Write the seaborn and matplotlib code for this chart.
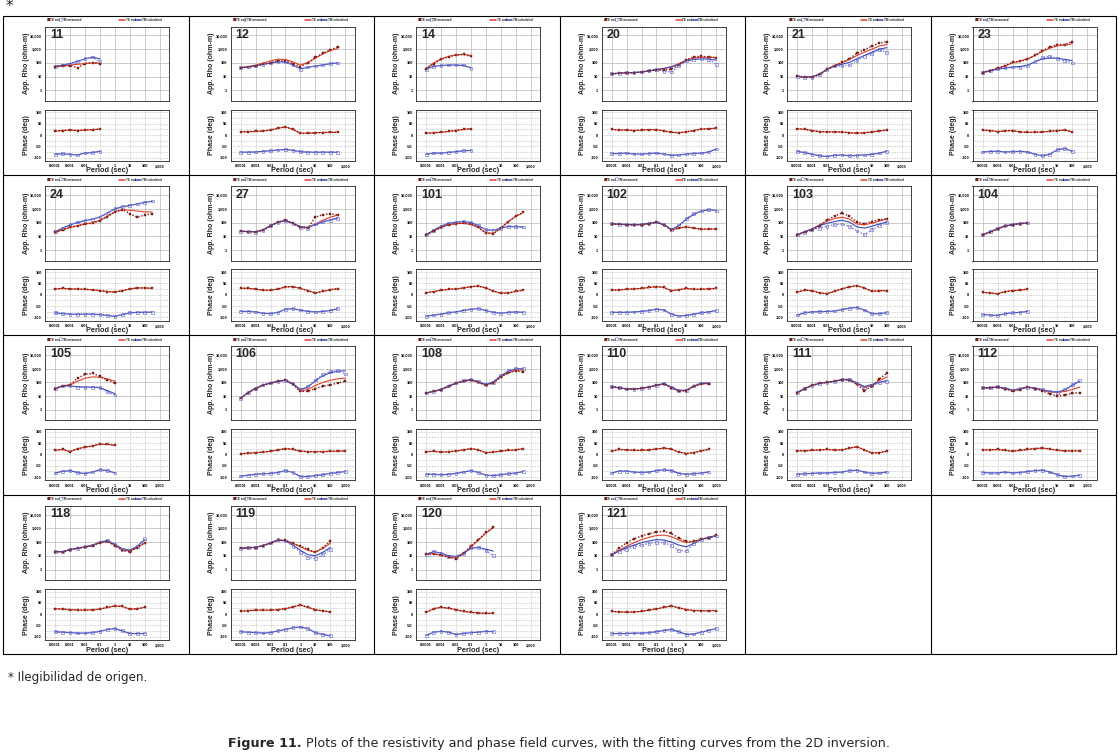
import numpy as np
import pandas as pd
import seaborn as sns
import matplotlib.pyplot as plt
from matplotlib.lines import Line2D
from matplotlib.ticker import NullLocator, FixedLocator

# ---------------------------------------------------------------- data
# sample periods (s), half-decade steps; each station uses the first n of them
PERIODS = [1e-4, 3.16e-4, 1e-3, 3.16e-3, 1e-2, 3.16e-2, 0.1, 0.316,
           1.0, 3.16, 10.0, 31.6, 100.0, 316.0, 1000.0]

STATIONS = [11, 12, 14, 20, 21, 23, 24, 27, 101, 102, 103, 104,
            105, 106, 108, 110, 111, 112, 118, 119, 120, 121]

TE_RHO = {
    11: [54, 62, 65, 45, 90, 105, 90],
    12: [45, 50, 60, 80, 100, 150, 140, 90, 55, 100, 250, 500, 900, 1500],
    14: [35, 90, 180, 280, 380, 420, 300],
    20: [16, 18, 20, 19, 22, 28, 32, 30, 35, 70, 170, 280, 300, 270, 240],
    21: [11, 9, 9, 15, 35, 65, 110, 200, 500, 900, 1700, 2800, 3500],
    23: [20, 28, 40, 65, 110, 130, 180, 350, 800, 1400, 2200, 2200, 3500],
    24: [20, 30, 45, 60, 80, 90, 140, 280, 600, 900, 450, 250, 350, 450],
    27: [24, 22, 21, 28, 60, 110, 150, 90, 45, 40, 250, 380, 450, 350],
    101: [13, 25, 45, 70, 85, 90, 75, 45, 17, 16, 40, 120, 300, 550],
    102: [80, 75, 72, 70, 70, 85, 110, 70, 28, 40, 50, 40, 32, 35, 35],
    103: [13, 20, 28, 60, 150, 300, 500, 300, 110, 85, 120, 160, 190],
    104: [13, 20, 35, 55, 70, 85, 90],
    105: [35, 55, 65, 200, 380, 450, 270, 150, 90],
    106: [7, 18, 35, 60, 85, 120, 150, 70, 22, 22, 35, 50, 65, 90, 120],
    108: [17, 22, 30, 50, 85, 120, 150, 100, 60, 90, 250, 500, 700, 550],
    110: [48, 40, 33, 32, 36, 45, 60, 80, 40, 22, 25, 50, 80, 80],
    111: [18, 35, 60, 85, 100, 120, 160, 150, 70, 25, 50, 180, 450],
    112: [40, 40, 45, 35, 22, 30, 45, 35, 25, 14, 10, 12, 16, 18],
    118: [20, 19, 28, 35, 42, 55, 90, 110, 55, 25, 20, 40, 90],
    119: [35, 38, 40, 55, 80, 140, 130, 80, 50, 30, 18, 40, 110],
    120: [13, 14, 11, 8, 6, 15, 50, 150, 500, 1200],
    121: [12, 35, 90, 170, 280, 400, 550, 600, 420, 200, 110, 110, 160, 200, 300],
}

TM_RHO = {
    11: [55, 70, 80, 120, 200, 270, 120],
    12: [45, 50, 60, 80, 100, 120, 120, 70, 35, 50, 60, 70, 90, 100],
    14: [35, 55, 65, 70, 72, 70, 40],
    20: [16, 18, 20, 19, 22, 28, 35, 25, 22, 60, 150, 190, 200, 180, 80],
    21: [11, 9, 9, 14, 32, 60, 60, 70, 150, 300, 500, 900, 600],
    23: [20, 28, 38, 45, 50, 45, 60, 120, 250, 300, 200, 150, 100],
    24: [22, 40, 70, 110, 150, 180, 260, 500, 1100, 1500, 1800, 2300, 3000, 3800],
    27: [24, 22, 20, 25, 60, 100, 140, 80, 45, 40, 80, 120, 150, 200],
    101: [13, 28, 55, 90, 110, 120, 100, 60, 30, 28, 40, 55, 50, 48],
    102: [85, 78, 72, 70, 75, 90, 110, 70, 30, 60, 200, 450, 700, 900, 700],
    103: [13, 20, 30, 40, 55, 70, 80, 55, 25, 13, 30, 60, 100],
    104: [13, 22, 38, 60, 75, 85, 95],
    105: [35, 55, 55, 45, 42, 45, 45, 20, 12],
    106: [7, 18, 38, 65, 90, 120, 140, 80, 30, 50, 150, 350, 600, 700, 400],
    108: [17, 22, 32, 55, 90, 130, 170, 110, 70, 100, 300, 700, 1000, 1000],
    110: [48, 40, 33, 32, 36, 45, 62, 85, 45, 25, 25, 55, 90, 90],
    111: [18, 35, 62, 85, 100, 120, 170, 170, 90, 40, 60, 90, 110],
    112: [40, 40, 48, 38, 28, 35, 45, 38, 30, 22, 18, 30, 70, 140],
    118: [20, 19, 28, 36, 45, 60, 100, 130, 70, 30, 25, 50, 180],
    119: [35, 38, 40, 55, 85, 150, 120, 50, 18, 8, 6, 12, 30],
    120: [13, 20, 15, 9, 8, 15, 40, 40, 25, 10],
    121: [12, 20, 30, 45, 60, 80, 95, 90, 55, 25, 22, 80, 160, 220, 280],
}

TE_RHO_CALC = {
    11: [55, 60, 70, 80, 90, 100, 95],
    12: [45, 55, 70, 100, 140, 190, 180, 120, 70, 110, 220, 450, 800, 1100],
    14: [40, 100, 200, 300, 380, 420, 350],
    20: [16, 18, 19, 20, 22, 26, 32, 40, 55, 90, 160, 230, 260, 260, 250],
    21: [11, 9, 10, 15, 35, 65, 100, 180, 350, 600, 1000, 1700, 2200],
    23: [20, 28, 40, 60, 100, 140, 200, 350, 700, 1200, 1800, 2000, 2500],
    24: [20, 30, 45, 60, 80, 100, 150, 300, 600, 900, 800, 700, 600, 600],
    27: [24, 22, 22, 30, 60, 110, 140, 90, 50, 45, 80, 150, 250, 350],
    101: [13, 25, 45, 70, 85, 90, 75, 45, 18, 17, 40, 120, 290, 550],
    102: [80, 75, 72, 70, 72, 85, 105, 70, 30, 40, 48, 40, 33, 34, 35],
    103: [13, 22, 35, 70, 130, 200, 250, 180, 80, 70, 90, 130, 180],
    104: [13, 21, 36, 56, 72, 85, 92],
    105: [35, 55, 65, 120, 200, 250, 230, 180, 120],
    106: [7, 18, 35, 60, 90, 120, 140, 75, 25, 30, 60, 100, 140, 180, 200],
    108: [17, 22, 30, 50, 85, 120, 150, 100, 65, 100, 250, 500, 750, 800],
    110: [48, 40, 34, 33, 37, 45, 60, 78, 42, 24, 27, 50, 78, 85],
    111: [18, 35, 60, 85, 100, 120, 160, 150, 80, 40, 60, 130, 250],
    112: [40, 40, 45, 35, 25, 32, 45, 38, 28, 20, 18, 22, 30, 45],
    118: [20, 20, 28, 35, 43, 56, 90, 110, 58, 27, 22, 40, 85],
    119: [35, 38, 42, 55, 85, 140, 130, 80, 45, 25, 18, 35, 80],
    120: [13, 14, 11, 8, 7, 14, 45, 140, 450, 1100],
    121: [12, 25, 50, 90, 150, 220, 300, 320, 250, 140, 90, 110, 160, 220, 300],
}

TM_RHO_CALC = {
    11: [55, 70, 90, 130, 200, 260, 200],
    12: [45, 52, 62, 80, 100, 120, 115, 70, 38, 48, 60, 72, 88, 100],
    14: [40, 55, 65, 70, 70, 65, 45],
    20: [16, 18, 19, 20, 22, 26, 32, 40, 50, 80, 140, 180, 200, 190, 160],
    21: [11, 9, 10, 15, 33, 60, 80, 110, 200, 350, 600, 1000, 1300],
    23: [20, 27, 35, 42, 50, 55, 70, 120, 200, 230, 220, 180, 150],
    24: [22, 40, 70, 100, 140, 180, 260, 500, 1000, 1400, 1800, 2300, 3000, 3600],
    27: [24, 22, 22, 30, 60, 110, 140, 90, 50, 45, 70, 110, 160, 220],
    101: [13, 28, 55, 90, 110, 120, 100, 60, 30, 28, 40, 52, 50, 48],
    102: [85, 78, 72, 70, 75, 90, 105, 70, 32, 60, 180, 400, 700, 850, 800],
    103: [13, 22, 35, 60, 90, 120, 150, 110, 50, 40, 55, 80, 110],
    104: [13, 22, 38, 58, 74, 86, 95],
    105: [35, 55, 55, 48, 45, 45, 40, 25, 15],
    106: [7, 18, 38, 65, 90, 120, 140, 80, 30, 45, 130, 300, 500, 650, 700],
    108: [17, 22, 32, 55, 90, 130, 160, 110, 70, 110, 300, 650, 950, 1000],
    110: [48, 40, 34, 33, 37, 46, 62, 82, 45, 26, 27, 55, 88, 90],
    111: [18, 35, 60, 85, 100, 120, 160, 160, 90, 50, 70, 100, 130],
    112: [40, 40, 46, 38, 28, 34, 45, 38, 28, 22, 20, 28, 60, 120],
    118: [20, 20, 28, 36, 45, 60, 100, 125, 70, 32, 26, 50, 150],
    119: [35, 38, 42, 55, 85, 140, 120, 60, 25, 12, 10, 18, 40],
    120: [13, 20, 16, 10, 9, 15, 35, 40, 30, 22],
    121: [12, 22, 40, 60, 90, 120, 150, 140, 100, 60, 45, 80, 150, 220, 280],
}

TE_PHASE = {
    11: [17, 20, 22, 20, 22, 24, 26],
    12: [14, 15, 16, 18, 22, 30, 36, 25, 8, 8, 10, 11, 12, 12],
    14: [8, 10, 12, 16, 20, 25, 28],
    20: [25, 22, 22, 20, 22, 24, 24, 18, 12, 10, 14, 20, 26, 28, 30],
    21: [28, 25, 20, 15, 14, 14, 13, 10, 8, 10, 14, 18, 22],
    23: [22, 20, 15, 18, 20, 14, 12, 12, 14, 16, 20, 22, 14],
    24: [25, 28, 26, 25, 24, 22, 18, 14, 12, 18, 26, 30, 30, 28],
    27: [29, 28, 25, 20, 20, 25, 35, 36, 28, 18, 8, 15, 22, 27],
    101: [9, 14, 20, 24, 26, 30, 36, 38, 30, 16, 7, 8, 15, 20],
    102: [20, 22, 24, 26, 28, 32, 36, 32, 18, 22, 28, 24, 24, 26, 28],
    103: [12, 20, 18, 8, 5, 15, 26, 35, 40, 30, 15, 18, 18],
    104: [10, 8, 4, 14, 18, 20, 25],
    105: [18, 22, 12, 25, 32, 38, 45, 45, 40],
    106: [3, 5, 8, 10, 14, 20, 26, 22, 15, 12, 12, 12, 14, 14, 16],
    108: [12, 14, 10, 12, 15, 20, 26, 20, 8, 10, 15, 18, 20, 26],
    110: [14, 22, 20, 18, 18, 20, 24, 28, 24, 10, 4, 8, 16, 22],
    111: [16, 16, 18, 20, 22, 20, 20, 28, 34, 20, 6, 8, 14],
    112: [20, 20, 22, 18, 14, 18, 22, 26, 28, 24, 18, 16, 16, 16],
    118: [24, 22, 20, 18, 18, 19, 22, 30, 36, 34, 22, 24, 30],
    119: [12, 16, 17, 18, 17, 20, 24, 32, 40, 30, 20, 14, 10],
    120: [8, 24, 30, 26, 20, 12, 8, 5, 3, 4],
    121: [12, 10, 8, 10, 12, 18, 23, 30, 36, 28, 20, 16, 15, 15, 16],
}

TM_PHASE = {
    11: [-85, -83, -86, -88, -80, -78, -72],
    12: [-76, -76, -75, -72, -70, -66, -64, -68, -74, -76, -76, -76, -76, -76],
    14: [-85, -80, -80, -77, -74, -70, -68],
    20: [-82, -82, -80, -84, -84, -82, -80, -84, -90, -88, -84, -82, -80, -75, -62],
    21: [-72, -78, -85, -92, -95, -90, -88, -92, -90, -88, -86, -80, -72],
    23: [-75, -73, -72, -75, -74, -72, -75, -85, -92, -85, -65, -60, -72],
    24: [-80, -84, -86, -87, -86, -86, -88, -92, -96, -88, -80, -78, -78, -77],
    27: [-74, -74, -76, -82, -84, -78, -64, -62, -68, -74, -76, -74, -70, -62],
    101: [-95, -90, -86, -80, -76, -70, -64, -62, -70, -78, -82, -78, -76, -78],
    102: [-78, -78, -78, -76, -74, -70, -64, -68, -86, -94, -92, -86, -80, -76, -70],
    103: [-90, -80, -76, -75, -74, -72, -66, -60, -56, -68, -84, -84, -80],
    104: [-88, -90, -92, -84, -80, -78, -74],
    105: [-82, -75, -72, -80, -85, -78, -68, -72, -82],
    106: [-96, -92, -88, -86, -84, -80, -72, -80, -98, -98, -94, -90, -84, -80, -76],
    108: [-88, -88, -90, -88, -84, -78, -72, -80, -92, -94, -90, -86, -82, -76],
    110: [-82, -74, -74, -78, -80, -78, -72, -68, -72, -84, -88, -86, -82, -78],
    111: [-88, -86, -84, -82, -82, -80, -78, -72, -70, -78, -84, -82, -78],
    112: [-80, -82, -82, -78, -82, -80, -76, -72, -70, -78, -90, -98, -96, -92],
    118: [-78, -80, -82, -84, -84, -82, -76, -68, -64, -74, -86, -86, -86],
    119: [-78, -80, -82, -84, -82, -74, -68, -60, -57, -64, -82, -90, -96],
    120: [-94, -80, -76, -80, -90, -86, -82, -80, -76, -78],
    121: [-86, -86, -86, -84, -84, -82, -78, -72, -68, -78, -90, -88, -80, -72, -64],
}

RHO_TICKS = [1, 10, 100, 1000, 10000]
RHO_LABELS = ["1", "10", "100", "1,000", "10,000"]
PERIOD_TICKS = [1e-4, 1e-3, 1e-2, 1e-1, 1, 10, 100, 1000]
PERIOD_LABELS = ["0.0001", "0.001", "0.01", "0.1", "1", "10", "100", "1,000"]
PHASE_TICKS = [-100, -50, 0, 50, 100]
PHASE_LABELS = ["-100", "-50", "0", "50", "100"]

# ---------------------------------------------------------------- style
sns.set_style("white")
plt.rcParams["font.family"] = ["Liberation Sans", "DejaVu Sans"]

TE_DARK = "#7a1a10"
TE_LINE = "#e2402c"
TM_LIGHT = "#7c7cd6"
TM_LINE = "#3848bc"

W, H = 1118, 755
fig = plt.figure(figsize=(W / 100, H / 100), dpi=100)


def box(left, top, width, height):
    return [left / W, 1 - (top + height) / H, width / W, height / H]


def fx(px):
    return px / W


def fy(py):
    return 1 - py / H


X0, Y0 = 3, 15.5
CELL_W, CELL_H = 185.5, 159.7
XLIM = (10 ** -4.68, 10 ** 3.62)


def draw_curves(ax, per, te_meas, tm_meas, te_calc, tm_calc):
    sns.lineplot(x=per, y=te_calc, ax=ax, color=TE_LINE, lw=0.8,
                 estimator=None, errorbar=None, sort=False)
    sns.lineplot(x=per, y=tm_calc, ax=ax, color=TM_LINE, lw=0.8,
                 estimator=None, errorbar=None, sort=False)
    sns.lineplot(x=per, y=tm_meas, ax=ax, color=TM_LIGHT, lw=1.0,
                 linestyle=(0, (1, 1.3)), estimator=None, errorbar=None, sort=False)
    sns.scatterplot(x=per, y=tm_meas, ax=ax, marker="s", s=4,
                    facecolor="none", edgecolor=TM_LIGHT, linewidth=0.5)
    sns.lineplot(x=per, y=te_meas, ax=ax, color=TE_DARK, lw=1.0,
                 linestyle=(0, (1, 1.3)), estimator=None, errorbar=None, sort=False)
    sns.scatterplot(x=per, y=te_meas, ax=ax, marker="s", s=3,
                    color=TE_DARK, edgecolor=TE_DARK, linewidth=0.3)


for i, st in enumerate(STATIONS):
    row, col = divmod(i, 6)
    cl = X0 + col * CELL_W
    ct = Y0 + row * CELL_H
    n = len(TE_RHO[st])
    per = PERIODS[:n]

    # ---- apparent resistivity
    ax_r = fig.add_axes(box(cl + 42, ct + 11, 124, 74.5))
    ax_r.set_xscale("log")
    ax_r.set_yscale("log")
    draw_curves(ax_r, per, TE_RHO[st], TM_RHO[st],
                TE_RHO_CALC[st], TM_RHO_CALC[st])
    ax_r.set_xlim(*XLIM)
    ax_r.set_ylim(0.17, 45000)
    ax_r.xaxis.set_major_locator(FixedLocator(PERIOD_TICKS))
    ax_r.xaxis.set_minor_locator(NullLocator())
    ax_r.set_xticklabels([])
    ax_r.set_yticks(RHO_TICKS)
    ax_r.yaxis.set_minor_locator(NullLocator())
    ax_r.set_yticklabels(RHO_LABELS, fontsize=2.8, fontweight="bold")
    ax_r.grid(True, color="#b8b8b8", lw=0.5)
    ax_r.set_xlabel("")
    ax_r.set_ylabel("")

    # ---- phase
    ax_p = fig.add_axes(box(cl + 42, ct + 94, 124, 51.5))
    ax_p.set_xscale("log")
    draw_curves(ax_p, per, TE_PHASE[st], TM_PHASE[st],
                TE_PHASE[st], TM_PHASE[st])
    ax_p.set_xlim(*XLIM)
    ax_p.set_ylim(-115, 113)
    ax_p.xaxis.set_major_locator(FixedLocator(PERIOD_TICKS))
    ax_p.xaxis.set_minor_locator(NullLocator())
    ax_p.set_xticklabels(PERIOD_LABELS, fontsize=2.8, fontweight="bold")
    ax_p.set_yticks(PHASE_TICKS)
    ax_p.set_yticks([-75, -25, 25, 75], minor=True)
    ax_p.set_yticklabels(PHASE_LABELS, fontsize=2.8, fontweight="bold")
    ax_p.grid(True, which="both", color="#9a9a9a", lw=0.45, linestyle=(0, (1, 1.5)))
    ax_p.set_xlabel("")
    ax_p.set_ylabel("")

    for ax in (ax_r, ax_p):
        for sp in ax.spines.values():
            sp.set_color("#222222")
            sp.set_linewidth(0.6)
        ax.tick_params(which="major", length=1.2, width=0.4, pad=1.2, colors="black")
        ax.tick_params(which="minor", length=0)
        ax.set_axisbelow(True)

    # ---- labels
    fig.text(fx(cl + 47), fy(ct + 19.5), str(st), fontsize=9, fontweight="bold",
             ha="left", va="center")
    fig.text(fx(cl + 23), fy(ct + 48), "App. Rho (ohm-m)", rotation=90,
             fontsize=5, fontweight="bold", ha="center", va="center")
    fig.text(fx(cl + 23), fy(ct + 120), "Phase (deg)", rotation=90,
             fontsize=5, fontweight="bold", ha="center", va="center")
    fig.text(fx(cl + 104), fy(ct + 155.5), "Period (sec)",
             fontsize=5.3, fontweight="bold", ha="center", va="center")

    # ---- little legend strip on top of each cell
    ly = fy(ct + 4.6)
    fig.text(fx(cl + 44), ly, "\u25a0", color=TE_DARK, fontsize=2.6,
             family="DejaVu Sans", va="center")
    fig.text(fx(cl + 47), ly, "TE and", fontsize=2.2, fontweight="bold", va="center")
    fig.text(fx(cl + 55.5), ly, "\u25a1", color=TM_LIGHT, fontsize=2.6,
             family="DejaVu Sans", va="center")
    fig.text(fx(cl + 58.5), ly, "TM measured", fontsize=2.2, fontweight="bold", va="center")
    fig.add_artist(Line2D([fx(cl + 116), fx(cl + 122)], [ly, ly], color=TE_LINE, lw=1.1))
    fig.text(fx(cl + 123), ly, "TE and", fontsize=2.2, fontweight="bold", va="center")
    fig.add_artist(Line2D([fx(cl + 132), fx(cl + 138)], [ly, ly], color=TM_LINE, lw=1.1))
    fig.text(fx(cl + 139), ly, "TM calculated", fontsize=2.2, fontweight="bold", va="center")

# ---------------------------------------------------------------- table borders
x_end = X0 + 6 * CELL_W
y_end = Y0 + 4 * CELL_H
for r in range(5):
    y = Y0 + r * CELL_H
    fig.add_artist(Line2D([fx(X0), fx(x_end)], [fy(y), fy(y)], color="black", lw=0.8))
for c in range(7):
    x = X0 + c * CELL_W
    fig.add_artist(Line2D([fx(x), fx(x)], [fy(Y0), fy(y_end)], color="black", lw=0.8))

# ---------------------------------------------------------------- notes
fig.text(fx(6), fy(7), "*", fontsize=11, family="DejaVu Sans", ha="left", va="center")
fig.text(fx(8), fy(677), "* Ilegibilidad de origen.", fontsize=8.6,
         family="DejaVu Sans", ha="left", va="center")

renderer = fig.canvas.get_renderer()
cap_bold = fig.text(0, fy(743), "Figure 11.", fontsize=9.2, fontweight="bold",
                    family="DejaVu Sans", ha="left", va="center")
cap_rest = fig.text(0, fy(743), " Plots of the resistivity and phase field curves, "
                    "with the fitting curves from the 2D inversion.",
                    fontsize=9.2, family="DejaVu Sans", ha="left", va="center")
w1 = cap_bold.get_window_extent(renderer).width
w2 = cap_rest.get_window_extent(renderer).width
start = 559 - (w1 + w2) / 2
cap_bold.set_x(fx(start))
cap_rest.set_x(fx(start + w1))

fig.savefig("out.png", dpi=100)
